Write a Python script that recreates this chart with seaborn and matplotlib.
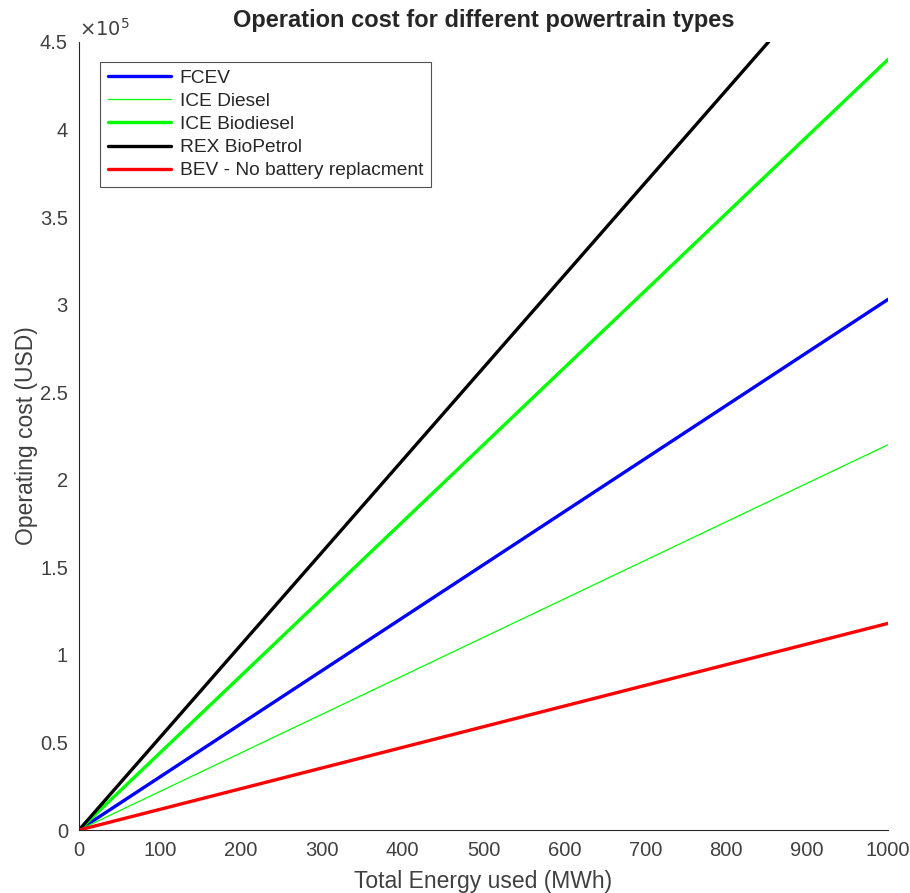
import matplotlib
matplotlib.use("Agg")
import matplotlib.pyplot as plt
import seaborn as sns
import pandas as pd
import numpy as np

sns.set_style("white")
plt.rcParams['font.family'] = ['Liberation Sans', 'DejaVu Sans']

energy = [0, 1000]
fcev = [0, 3.03e5]
ice_diesel = [0, 2.20e5]
ice_biodiesel = [0, 4.40e5]
rex_biopetrol = [0, 5.28e5]
bev = [0, 1.18e5]

series_names = ["FCEV", "ICE Diesel", "ICE Biodiesel", "REX BioPetrol", "BEV - No battery replacment"]
series_vals = [fcev, ice_diesel, ice_biodiesel, rex_biopetrol, bev]
colors = ["#0000ff", "#00ff00", "#00ff00", "#000000", "#ff0000"]
widths = [2.4, 0.9, 2.4, 2.4, 2.4]

xticks = [0, 100, 200, 300, 400, 500, 600, 700, 800, 900, 1000]
yticks = [0, 0.5e5, 1e5, 1.5e5, 2e5, 2.5e5, 3e5, 3.5e5, 4e5, 4.5e5]
ytick_labels = ["0", "0.5", "1", "1.5", "2", "2.5", "3", "3.5", "4", "4.5"]

fig = plt.figure(figsize=(9.1, 8.93), dpi=100)
ax = fig.add_axes([0.0868, 0.0705, 0.8890, 0.8825])

for name, vals, c, w in zip(series_names, series_vals, colors, widths):
    df = pd.DataFrame({"x": energy, "y": vals})
    sns.lineplot(data=df, x="x", y="y", ax=ax, color=c, linewidth=w, label=name)

ax.set_xlim(0, 1000)
ax.set_ylim(0, 4.5e5)
ax.set_xticks(xticks)
ax.set_xticklabels([str(t) for t in xticks])
ax.set_yticks(yticks)
ax.set_yticklabels(ytick_labels)

for s in ["top", "right"]:
    ax.spines[s].set_visible(False)
for s in ["left", "bottom"]:
    ax.spines[s].set_color("#262626")
    ax.spines[s].set_linewidth(0.8)

ax.tick_params(axis="both", direction="in", length=5, width=0.8, colors="#262626",
               labelsize=14.5, labelcolor="#404040", pad=8)

ax.set_xlabel("Total Energy used (MWh)", fontsize=16.5, color="#404040", labelpad=7)
ax.set_ylabel("Operating cost (USD)", fontsize=16.5, color="#404040", labelpad=1)
ax.set_title("Operation cost for different powertrain types", fontsize=17, fontweight="bold", pad=11)

ax.text(0.0, 1.003, r"$\times10^5$", transform=ax.transAxes, fontsize=14, color="#404040",
        ha="left", va="bottom")

leg = ax.legend(loc="upper left", bbox_to_anchor=(0.026, 0.975), frameon=True, fancybox=False,
                edgecolor="#262626", fontsize=13.8, handlelength=3.3, borderpad=0.4,
                labelspacing=0.3, handletextpad=0.45, borderaxespad=0.0)
leg.get_frame().set_linewidth(0.8)

fig.savefig("out.png", dpi=100)
